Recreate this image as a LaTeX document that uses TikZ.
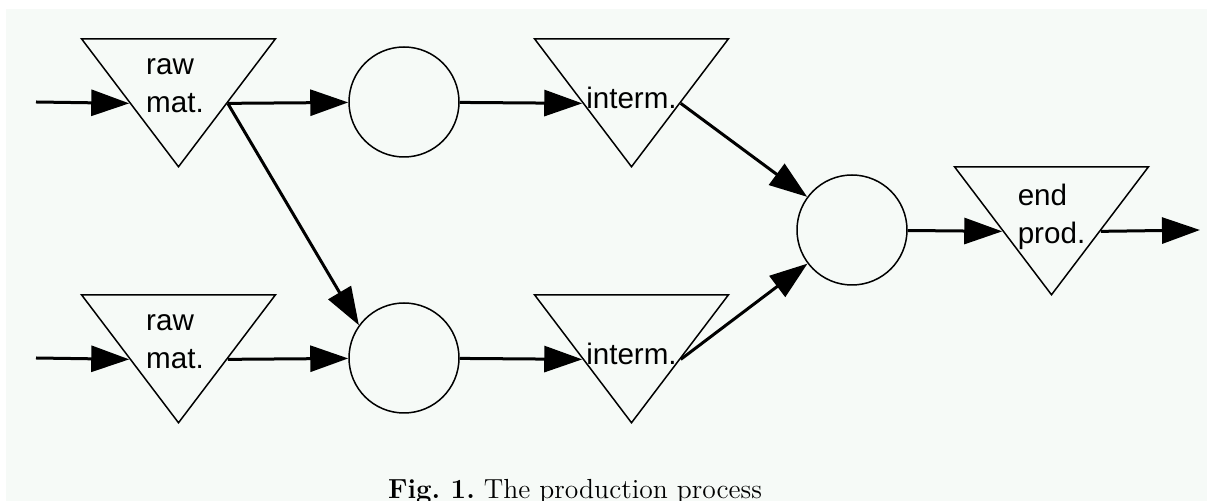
\documentclass[tikz,border=0pt]{standalone}
\usepackage{fontspec}
\newfontfamily\helv{Liberation Sans}
\usetikzlibrary{shapes.geometric, arrows.meta}

\definecolor{paper}{RGB}{246,250,247}

\tikzset{
	stock/.style = {draw, line width = 0.75pt, isosceles triangle, isosceles triangle stretches,
		shape border rotate = 270, minimum width = 97pt, minimum height = 64pt, inner sep = 0pt, anchor = north},
	machine/.style = {draw, line width = 0.75pt, circle, minimum size = 55pt, inner sep = 0pt},
	tag/.style = {font = \helv\fontsize{14.8}{15.5}\selectfont, align = left, inner sep = 0pt},
	flow/.style = {->, line width = 1.5pt}
}

\begin{document}
\begin{tikzpicture}[x = 0.5pt, y = -0.5pt, > = {Triangle[length = 19pt, width = 13pt]}]

	% Paper

	\useasboundingbox (0, 0) rectangle (1207, 501);
	\fill [paper] (6, 9) rectangle (1207, 501);

	% Raw materials

	\node [stock, label = {[tag, xshift = -1.75pt, yshift = 0.5pt]center:{raw\\[3.5pt]mat.}}] (raw1) at (178.5, 38) {};
	\node [stock, label = {[tag, xshift = -1.75pt, yshift = 0.5pt]center:{raw\\[3.5pt]mat.}}] (raw2) at (178.5, 294) {};
	\coordinate (src1) at (36, 102);
	\coordinate (src2) at (36, 358);

	% Operations

	\node [machine] (op1) at (404, 102) {};
	\node [machine] (op2) at (404, 358) {};

	% Intermediate products

	\node [stock, label = {[tag, anchor = base, yshift = -5.25pt]center:interm.}] (int1) at (631.5, 38) {};
	\node [stock, label = {[tag, anchor = base, yshift = -5.25pt]center:interm.}] (int2) at (631.5, 294) {};

	% Assembly + end product

	\node [machine] (asm) at (852, 230) {};
	\node [stock, label = {[tag, yshift = -0.75pt]center:{end\\[3.5pt]prod.}}] (prod) at (1051.5, 166) {};
	\coordinate (sink) at (1200, 230);

	% Flows

	\draw [flow] (src1) -- (raw1.right side);
	\draw [flow] (src2) -- (raw2.right side);
	\draw [flow] (raw1.left side) -- (op1);
	\draw [flow] (raw2.left side) -- (op2);
	\draw [flow] (raw1.left side) -- (op2.144);
	\draw [flow] (op1) -- (int1.right side);
	\draw [flow] (op2) -- (int2.right side);
	\draw [flow] (int1.left side) -- (asm);
	\draw [flow] (int2.left side) -- (asm);
	\draw [flow] (asm) -- (prod.right side);
	\draw [flow] (prod.left side) -- (sink);

	% Caption

	\node [anchor = base, font = \fontsize{13.8}{17}\selectfont] (caption) at (575, 499) {\frenchspacing\textbf{Fig. 1.} The production process};

\end{tikzpicture}
\end{document}
